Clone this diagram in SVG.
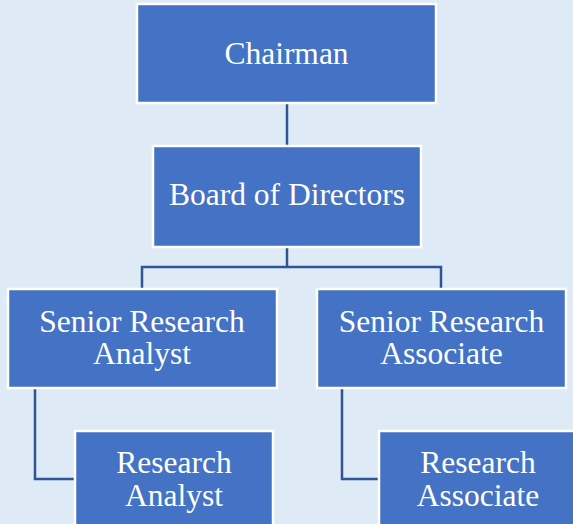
<svg xmlns="http://www.w3.org/2000/svg" width="573" height="524" viewBox="0 0 573 524">
<style>
.box{fill:#4472C4;stroke:#FFFFFF;stroke-width:2.5}
.lbl{font-family:"Liberation Serif","Times New Roman",serif;font-size:31.5px;fill:#FFFFFF;text-anchor:middle}
.con{fill:none;stroke:#2F5597;stroke-width:2.5}
</style>
<rect x="0" y="0" width="573" height="524" fill="#DEEAF6"/>
<g id="connectors">
<path class="con" d="M287,104 V146"/>
<path class="con" d="M287,247 V267 M142,289 V267 H441 V289"/>
<path class="con" d="M35,388 V479 H75"/>
<path class="con" d="M342,388 V479 H379"/>
</g>
<g id="chairman">
<rect class="box" x="137" y="4" width="299" height="99"/>
<text class="lbl" x="286.5" y="64">Chairman</text>
</g>
<g id="board">
<rect class="box" x="153" y="146" width="268" height="101"/>
<text class="lbl" x="287" y="205">Board of Directors</text>
</g>
<g id="senior-analyst">
<rect class="box" x="8" y="289" width="269" height="99"/>
<text class="lbl" x="142" y="332">Senior Research</text>
<text class="lbl" x="142" y="364">Analyst</text>
</g>
<g id="senior-associate">
<rect class="box" x="317" y="289" width="249" height="99"/>
<text class="lbl" x="441.5" y="332">Senior Research</text>
<text class="lbl" x="441.5" y="364">Associate</text>
</g>
<g id="research-analyst">
<rect class="box" x="75" y="431" width="198" height="100"/>
<text class="lbl" x="174" y="473">Research</text>
<text class="lbl" x="174" y="506">Analyst</text>
</g>
<g id="research-associate">
<rect class="box" x="379" y="431" width="198" height="100"/>
<text class="lbl" x="478" y="473">Research</text>
<text class="lbl" x="478" y="506">Associate</text>
</g>
</svg>
